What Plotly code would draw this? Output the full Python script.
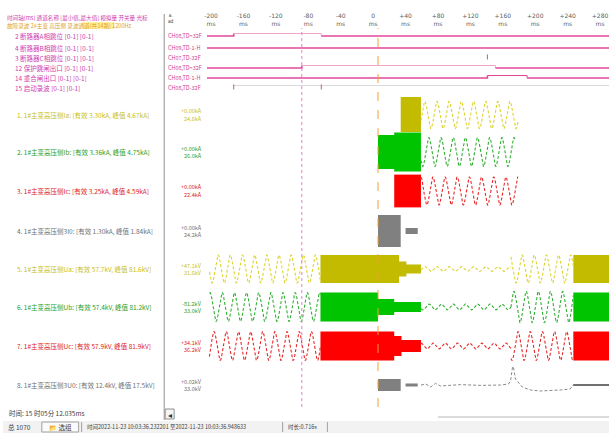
import numpy as np
import plotly.graph_objects as go

W, H = 609, 433
CJK = "Noto Sans CJK SC"

# ---------------- time axis (ms) ----------------
T_MIN, T_MAX = -205.0, 291.0
TICK_MS = [-200, -160, -120, -80, -40, 0, 40, 80, 120, 160, 200, 240, 280]
CURSOR_A_MS = -88.0      # pink cursor
CURSOR_B_MS = 6.0        # trigger cursor
CYCLE_MS = 15.0

# ---------------- header texts ----------------
HEADER_1 = "时间轴(ms) 通道名称 [最小值,最大值] 模拟量 开关量 光标"
HEADER_2 = "故障录波 2#主变 高压侧 录波通道(共14路) 1200Hz"

# ---------------- digital channels ----------------
DIG_NAMES = [
    "2 断路器A相跳位 [0-1] [0-1]",
    "4 断路器B相跳位 [0-1] [0-1]",
    "3 断路器C相跳位 [0-1] [0-1]",
    "12 保护跳闸出口 [0-1] [0-1]",
    "14 重合闸出口 [0-1] [0-1]",
    "15 启动录波 [0-1] [0-1]",
]
DIG_TAGS = ["CH08,TD=32F", "CH09,TD-1-H", "CH07,TD-32F",
            "CH08,TD=32F", "CH09,TD-1-H", "CH08,TD-32F"]
# (time ms, state) change points of each channel
DIG_EDGES = [
    [(-205, 0), (-172, 1), (-64, 0)],
    [(-205, 0)],
    [],
    [(-205, 0), (-88, 1), (151, 0)],
    [(-205, 0), (141, 1), (190, 0)],
    [(-172, 1), (-64, 1)],
]
DIG_MARKS = [[], [], [141], [], [], [-172, -64]]

# ---------------- analog channels ----------------
ANA_NAMES = [
    "1. 1#主变高压侧Ia: [有效 3.30kA, 峰值 4.67kA]",
    "2. 1#主变高压侧Ib: [有效 3.36kA, 峰值 4.75kA]",
    "3. 1#主变高压侧Ic: [有效 3.25kA, 峰值 4.59kA]",
    "4. 1#主变高压侧3I0: [有效 1.30kA, 峰值 1.84kA]",
    "5. 1#主变高压侧Ua: [有效 57.7kV, 峰值 81.6kV]",
    "6. 1#主变高压侧Ub: [有效 57.4kV, 峰值 81.2kV]",
    "7. 1#主变高压侧Uc: [有效 57.9kV, 峰值 81.9kV]",
    "8. 1#主变高压侧3U0: [有效 12.4kV, 峰值 17.5kV]",
]
ANA_VAL_A = ["+0.00kA", "+0.00kA", "+0.00kA", "+0.00kA",
             "+47.1kV", "-81.2kV", "+34.1kV", "+0.02kV"]
ANA_VAL_B = ["24.6kA", "26.0kA", "22.4kA", "24.2kA",
             "31.6kV", "33.0kV", "36.2kV", "33.0kV"]
ANA_PHASE_DEG = [0, -120, 120, 0, 0, -120, 120, 0]

# segments: (kind, start ms, end ms, amplitude p.u.)
CH1_SEGS = [("block", 34, 59, 0.90), ("sine", 59, 179, 0.68)]
CH2_SEGS = [("block", 6, 26, 0.85), ("block", 26, 59, 0.97), ("sine", 59, 175, 0.72)]
CH3_SEGS = [("block", 26, 59, 0.82), ("sine", 59, 179, 0.70)]
CH4_SEGS = [("block", 6, 34, 0.80), ("block", 40, 55, 0.15)]
CH5_SEGS = [("sine", -202, -65, 0.70), ("block", -65, 32, 0.70), ("block", 32, 41, 0.38),
            ("block", 41, 59, 0.22), ("sine", 59, 170, 0.12), ("sine", 170, 247, 0.70),
            ("block", 247, 291, 0.70)]
CH6_SEGS = [("sine", -202, -65, 0.72), ("block", -65, 6, 0.72), ("block", 6, 26, 0.40),
            ("block", 26, 59, 0.25), ("sine", 59, 170, 0.15), ("sine", 170, 247, 0.78),
            ("block", 247, 291, 0.72)]
CH7_SEGS = [("sine", -202, -65, 0.72), ("block", -65, 26, 0.72), ("block", 26, 35, 0.50),
            ("block", 35, 59, 0.30), ("sine", 59, 170, 0.15), ("sine", 170, 247, 0.72),
            ("block", 247, 291, 0.72)]
CH8_SEGS = [("block", 6, 34, 0.30), ("block", 40, 55, 0.08)]
CH8_TAIL_T = [59, 65, 71, 77, 83, 96, 108, 133, 157, 167, 169.5, 172, 173, 175.6, 179.3,
              184, 194, 206, 231, 243, 246.8]
CH8_TAIL_V = [0.0, 0.05, -0.10, 0.08, -0.05, 0.0, 0.02, -0.02, 0.0, 0.05, 0.2, 0.9, 0.92,
              0.3, 0.1, -0.1, -0.25, -0.30, -0.25, -0.2, 0.0]
CH8_FLAT_T = [246.8, 291]
CH8_FLAT_V = [0.0, 0.0]

ANA_SEGS = [CH1_SEGS, CH2_SEGS, CH3_SEGS, CH4_SEGS, CH5_SEGS, CH6_SEGS, CH7_SEGS, CH8_SEGS]

# ---------------- styles / layout ----------------
ANA_COLORS = ["#c2bb00", "#00c400", "#ff0000", "#808080",
              "#c2bb00", "#00c400", "#ff0000", "#808080"]
ANA_LINE_COLORS = ["#ddd430", "#30b030", "#e82828", "#8a8a8a",
                   "#ddd430", "#30b030", "#e82828", "#8a8a8a"]
ANA_TEXT_COLORS = ["#c8c020", "#28a028", "#e02020", "#707070",
                   "#c8c020", "#28a028", "#e02020", "#707070"]
ANA_CENTER_PX = [115, 152, 191, 231, 269, 307, 346, 385]
ANA_HALF_PX = 20
DIG_CENTER_PX = [36, 48, 58, 68, 78, 88]
DIG_HALF_PX = 5
DIG_LOW_COLOR = "#e2489a"
DIG_HIGH_COLORS = ["#f2a6cc", "#f2a6cc", "#f2a6cc", "#f2a6cc", "#e2489a", "#d8d8d8"]

WAVE_X0_PX = 205
SEP_X_PX = 162


def px(x):
    return x / W


def py(y):
    return 1 - y / H


fig = go.Figure()
layout_axes = {}

# shared time axis
fig.update_layout(xaxis=dict(
    domain=[px(WAVE_X0_PX), 1.0], range=[T_MIN, T_MAX], anchor="free",
    position=py(27), side="top", showgrid=False, zeroline=False, showline=False,
    tickmode="array", tickvals=TICK_MS,
    ticktext=[f"{t:+d}<br>ms" if t else "0<br>ms" for t in TICK_MS],
    tickfont=dict(size=6, color="#606060", family="DejaVu Sans"),
    ticks="", fixedrange=True))

axis_no = 1


def new_axis(center_px, half_px, lo, hi):
    global axis_no
    axis_no += 1
    name = f"yaxis{axis_no}"
    layout_axes[name] = dict(domain=[py(center_px + half_px), py(center_px - half_px)],
                             range=[lo, hi], visible=False, anchor="x", fixedrange=True)
    return f"y{axis_no}"


# digital channels
for i in range(len(DIG_NAMES)):
    ya = new_axis(DIG_CENTER_PX[i], DIG_HALF_PX, -2, 2)
    edges = DIG_EDGES[i]
    for k, (t0, s) in enumerate(edges):
        t1 = edges[k + 1][0] if k + 1 < len(edges) else T_MAX
        if t1 <= t0:
            continue
        col = DIG_LOW_COLOR if s == 0 else DIG_HIGH_COLORS[i]
        wid = 1.6 if s == 0 else 1.0
        xs = [t0, t1]
        ys = [s, s]
        if k + 1 < len(edges):
            xs.append(t1)
            ys.append(edges[k + 1][1])
        fig.add_trace(go.Scatter(x=xs, y=ys, mode="lines", xaxis="x", yaxis=ya,
                                 line=dict(color=col, width=wid), hoverinfo="skip",
                                 showlegend=False))
    for tm in DIG_MARKS[i]:
        fig.add_trace(go.Scatter(x=[tm, tm], y=[-0.6, 1.4], mode="lines", xaxis="x", yaxis=ya,
                                 line=dict(color="#b06090", width=1), hoverinfo="skip",
                                 showlegend=False))

# analog channels
for i, segs in enumerate(ANA_SEGS):
    ya = new_axis(ANA_CENTER_PX[i], ANA_HALF_PX, -1, 1)
    ph = np.deg2rad(ANA_PHASE_DEG[i])
    sx, sy, bx, by = [], [], [], []
    for kind, t0, t1, a in segs:
        if kind == "sine":
            t = np.arange(t0, t1 + 0.001, 0.25)
            sx += list(t) + [None]
            sy += list(a * np.sin(2 * np.pi * t / CYCLE_MS + ph)) + [None]
        else:
            bx += [t0, t1, t1, t0, t0, None]
            by += [a, a, -a, -a, a, None]
    if bx:
        fig.add_trace(go.Scatter(x=bx, y=by, mode="lines", fill="toself",
                                 fillcolor=ANA_COLORS[i], line=dict(width=0, color=ANA_COLORS[i]),
                                 xaxis="x", yaxis=ya, hoverinfo="skip", showlegend=False))
    if sx:
        fig.add_trace(go.Scatter(x=sx, y=sy, mode="lines",
                                 line=dict(color=ANA_LINE_COLORS[i], width=1.1, dash="3px,2px"),
                                 xaxis="x", yaxis=ya, hoverinfo="skip", showlegend=False))
    if i == 7:
        fig.add_trace(go.Scatter(x=CH8_TAIL_T, y=CH8_TAIL_V, mode="lines",
                                 line=dict(color="#8a8a8a", width=1, dash="3px,2px"),
                                 xaxis="x", yaxis=ya, hoverinfo="skip", showlegend=False))
        fig.add_trace(go.Scatter(x=CH8_FLAT_T, y=CH8_FLAT_V, mode="lines",
                                 line=dict(color="#707070", width=2),
                                 xaxis="x", yaxis=ya, hoverinfo="skip", showlegend=False))

fig.update_layout(**layout_axes)

shapes = []
ann = []

# cursors
shapes.append(dict(type="line", xref="x", yref="paper", x0=CURSOR_A_MS, x1=CURSOR_A_MS,
                   y0=py(407), y1=py(28), line=dict(color="#e080c8", width=1, dash="dot")))
shapes.append(dict(type="line", xref="x", yref="paper", x0=CURSOR_B_MS, x1=CURSOR_B_MS,
                   y0=py(407), y1=py(28), line=dict(color="#f0a030", width=1, dash="dash")))

# panel separator
shapes.append(dict(type="line", xref="paper", yref="paper", x0=px(SEP_X_PX), x1=px(SEP_X_PX),
                   y0=py(420), y1=py(14), line=dict(color="#909090", width=1)))
# highlight in header row 2
shapes.append(dict(type="rect", xref="paper", yref="paper", x0=px(80), x1=px(112),
                   y0=py(29), y1=py(22), fillcolor="#fff0a0", line=dict(width=0), layer="below"))

# scrollbar
shapes.append(dict(type="rect", xref="paper", yref="paper", x0=px(163), x1=px(172),
                   y0=py(419), y1=py(409), fillcolor="#f4f4f4", line=dict(color="#909090", width=1)))
shapes.append(dict(type="line", xref="paper", yref="paper", x0=px(437), x1=px(609),
                   y0=py(417), y1=py(417), line=dict(color="#b8b8b8", width=1)))
ann.append(dict(x=px(167.5), y=py(414), xref="paper", yref="paper", text="◂", showarrow=False,
                font=dict(size=8, color="#303030"), xanchor="center", yanchor="middle"))

# status bar
shapes.append(dict(type="rect", xref="paper", yref="paper", x0=0, x1=1, y0=0, y1=py(421),
                   fillcolor="#f2f2f2", line=dict(width=0), layer="below"))
shapes.append(dict(type="rect", xref="paper", yref="paper", x0=px(39), x1=px(76),
                   y0=py(432), y1=py(422), fillcolor="#fafafa", line=dict(color="#a0a0a0", width=1)))
shapes.append(dict(type="line", xref="paper", yref="paper", x0=px(79), x1=px(79),
                   y0=py(432), y1=py(422), line=dict(color="#a0a0a0", width=1)))
shapes.append(dict(type="line", xref="paper", yref="paper", x0=px(281), x1=px(281),
                   y0=py(432), y1=py(422), line=dict(color="#a0a0a0", width=1)))
shapes.append(dict(type="line", xref="paper", yref="paper", x0=px(326), x1=px(326),
                   y0=py(432), y1=py(422), line=dict(color="#a0a0a0", width=1)))


def label(x, y, text, color, size=6.5, anchor="left"):
    ann.append(dict(x=px(x), y=py(y), xref="paper", yref="paper", text=text, showarrow=False,
                    font=dict(size=size, color=color, family=CJK), xanchor=anchor,
                    yanchor="middle"))


label(2, 18, HEADER_1, "#d040b0", 5.6)
label(2, 25.5, HEADER_2, "#e0a020", 5.6)
label(164, 18, "a.<br>ad", "#404040", 4.5)

for i, name in enumerate(DIG_NAMES):
    label(10, DIG_CENTER_PX[i], name, "#d040b0", 6.5)
    label(164, DIG_CENTER_PX[i], DIG_TAGS[i], "#d04090", 5.5)

for i, name in enumerate(ANA_NAMES):
    label(12, ANA_CENTER_PX[i], name, ANA_TEXT_COLORS[i], 6.5)
    label(202, ANA_CENTER_PX[i] - 3.5, ANA_VAL_A[i], ANA_TEXT_COLORS[i], 5.5, "right")
    label(202, ANA_CENTER_PX[i] + 3.5, ANA_VAL_B[i], ANA_TEXT_COLORS[i], 5.5, "right")

label(4, 413, "时间: 15 时05分 12.035ms", "#404040", 6.5)
label(3, 427, "总 1070", "#404040", 6.5)
label(44, 427, "📂 选组", "#404040", 6.5)
label(82, 427, "时间2022-11-23 10:03:36.232201 至2022-11-23 10:03:36.948633", "#404040", 5.5)
label(284, 427, "时长:0.716s", "#404040", 5.5)

fig.update_layout(width=W, height=H, margin=dict(l=0, r=0, t=0, b=0),
                  paper_bgcolor="white", plot_bgcolor="white",
                  shapes=shapes, annotations=ann, showlegend=False)

fig.write_html("out.html")
